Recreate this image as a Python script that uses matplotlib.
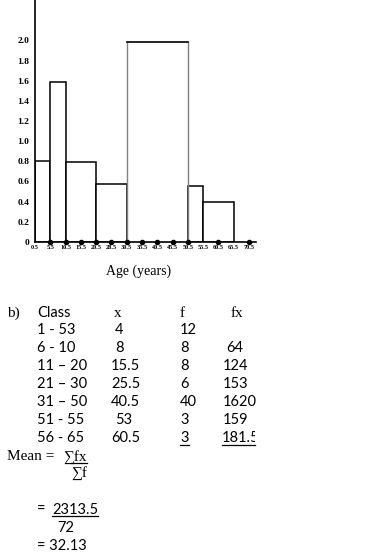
import matplotlib.pyplot as plt
from matplotlib.lines import Line2D
from matplotlib.transforms import Bbox, TransformedBbox

# histogram data (class boundaries and bar heights)
left_edges = [0.5, 5.5, 10.5, 20.5, 30.5, 50.5, 55.5]
widths = [5, 5, 10, 10, 20, 5, 10]
heights = [0.8, 1.59, 0.79, 0.58, 1.98, 0.56, 0.40]
dot_x = [5.5, 10.5, 15.5, 20.5, 25.5, 30.5, 35.5, 40.5, 45.5, 50.5, 60.5, 70.5]
xtick_pos = [0.5, 5.5, 10.5, 15.5, 20.5, 25.5, 30.5, 35.5, 40.5, 45.5, 50.5, 55.5, 60.5, 65.5, 70.5]
xtick_labels = ["0.5", "5.5", "10.5", "15.5", "20.5", "28.5", "30.5", "35.5", "40.5", "45.5",
                "50.5", "55.5", "60.5", "65.5", "70.5"]
ytick_pos = [0, 0.2, 0.4, 0.6, 0.8, 1.0, 1.2, 1.4, 1.6, 1.8, 2.0]
ytick_labels = ["0", "0.2", "0.4", "0.6", "0.8", "1.0", "1.2", "1.4", "1.6", "1.8", "2.0"]

# table data
classes = ["1 - 53", "6 - 10", "11 \u2013 20", "21 \u2013 30", "31 \u2013 50", "51 - 55", "56 - 65"]
x_vals = ["4", "8", "15.5", "25.5", "40.5", "53", "60.5"]
f_vals = ["12", "8", "8", "6", "40", "3", "3"]
fx_vals = ["", "64", "124", "153", "1620", "159", "181.5"]

W, H = 380, 553
fig = plt.figure(figsize=(W / 100, H / 100), dpi=100)

def fx(px):
    return px / W

def fy(py):
    return 1 - py / H

serif = ["Liberation Serif", "DejaVu Serif"]
sans = ["Lato", "DejaVu Sans"]

ax = fig.add_axes([fx(35), fy(242), fx(256) - fx(35), fy(0) - fy(242)])
ax.set_xlim(0.5, 72.8)
ax.set_ylim(0, 2.4)

for i in range(len(heights)):
    if heights[i] > 1.9:
        ax.bar(left_edges[i], heights[i], width=widths[i], align="edge",
               facecolor="white", edgecolor="none")
        ax.plot([left_edges[i], left_edges[i]], [0, heights[i]], color="#808080", lw=1)
        ax.plot([left_edges[i] + widths[i]] * 2, [0, heights[i]], color="#808080", lw=1)
        ax.plot([left_edges[i], left_edges[i] + widths[i]], [heights[i], heights[i]],
                color="black", lw=1.2)
    else:
        ax.bar(left_edges[i], heights[i], width=widths[i], align="edge",
               facecolor="white", edgecolor="black", lw=1.1)

ax.plot(dot_x, [0] * len(dot_x), "o", color="black", ms=3, clip_on=False, zorder=5)

for s in ["top", "right"]:
    ax.spines[s].set_visible(False)
ax.spines["left"].set_linewidth(1.2)
ax.spines["bottom"].set_linewidth(1.2)

ax.set_xticks(xtick_pos)
ax.set_xticklabels(xtick_labels, fontsize=4.5, fontweight="bold", family=serif)
ax.set_yticks(ytick_pos)
ax.set_yticklabels(ytick_labels, fontsize=6.8, fontweight="bold", family=serif)
ax.tick_params(axis="both", length=0)
ax.tick_params(axis="x", pad=2)
ax.tick_params(axis="y", pad=4)

fig.text(fx(139), fy(275), "Age (years)", ha="center", va="baseline", fontsize=10, family=serif)

# table
fs = 10.5
fss = 11
fig.text(fx(7), fy(317), "b)", va="baseline", fontsize=fss, family=serif)
fig.text(fx(37), fy(317), "Class", va="baseline", fontsize=fs, family=sans)
fig.text(fx(114), fy(317), "x", va="baseline", fontsize=fss, family=serif)
fig.text(fx(180), fy(317), "f", va="baseline", fontsize=fss, family=serif)
fig.text(fx(231), fy(317), "fx", va="baseline", fontsize=fss, family=serif)

row_base = [334.5, 352.4, 370.3, 388.2, 406.1, 424.0, 442.5]
x_left = [115, 115, 111, 111, 111, 115, 111]
fx_left = [226, 226, 223, 223, 223, 223, 222]
clip = TransformedBbox(Bbox([[0, 0], [fx(255), 1]]), fig.transFigure)
underlined = []
for i in range(len(classes)):
    y = fy(row_base[i])
    fig.text(fx(37), y, classes[i], va="baseline", fontsize=fs, family=sans)
    fig.text(fx(x_left[i]), y, x_vals[i], va="baseline", fontsize=fs, family=sans)
    t_f = fig.text(fx(180), y, f_vals[i], va="baseline", fontsize=fs, family=sans)
    t_fx = fig.text(fx(fx_left[i]), y, fx_vals[i], va="baseline", fontsize=fs, family=sans)
    if i == len(classes) - 1:
        underlined += [t_f, t_fx]
        t_fx.set_clip_box(clip)
        t_fx.set_clip_on(True)

fig.text(fx(7), fy(460.5), "Mean =", va="baseline", fontsize=fss, family=serif)
t_sum = fig.text(fx(63), fy(460.5), "\u2211fx", va="baseline", fontsize=fss, family=serif)
fig.text(fx(71), fy(477), "\u2211f", va="baseline", fontsize=fss, family=serif)
fig.text(fx(37), fy(514), "=", va="baseline", fontsize=fs, family=sans)
t_tot = fig.text(fx(52), fy(514), "2313.5", va="baseline", fontsize=fs, family=sans)
fig.text(fx(57), fy(532), "72", va="baseline", fontsize=fs, family=sans)
fig.text(fx(37), fy(549.5), "= 32.13", va="baseline", fontsize=fs, family=sans)
underlined += [t_sum, t_tot]

fig.canvas.draw()
r = fig.canvas.get_renderer()
for t in underlined:
    bb = t.get_window_extent(r)
    x0, x1 = bb.x0, min(bb.x1, 255)
    if t is t_sum:
        x0 = x0 + 0.35 * (bb.x1 - bb.x0)
    yb = t.get_transform().transform(t.get_position())[1] - 2
    fig.add_artist(Line2D([x0 / W, x1 / W], [yb / H, yb / H], color="black", lw=0.9,
                          transform=fig.transFigure))

fig.savefig("out.png", dpi=100)
